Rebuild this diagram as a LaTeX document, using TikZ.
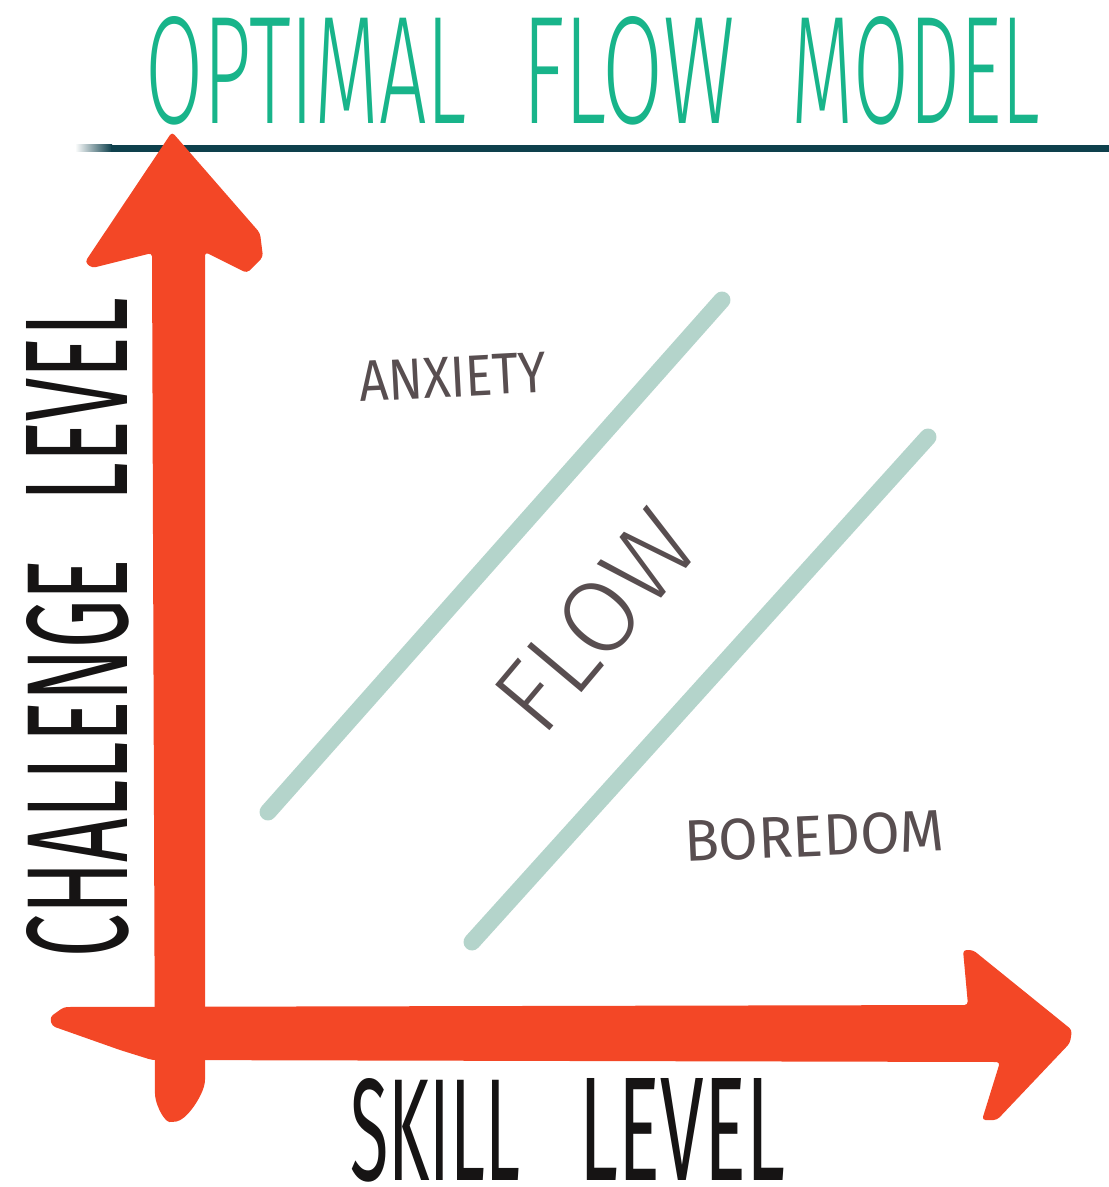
\documentclass[tikz,border=0pt]{standalone}
\usepackage{fontspec}
\usepackage{graphicx}
\newfontfamily\handfont{Fira Sans Light}
\newfontfamily\handfontreg{Fira Sans}
\definecolor{axisred}{RGB}{243,71,38}
\definecolor{flowteal}{RGB}{24,180,138}
\definecolor{bandgreen}{RGB}{180,212,203}
\definecolor{rulecol}{RGB}{14,64,76}
\definecolor{zonegray}{RGB}{88,78,80}
\definecolor{inkblack}{RGB}{22,20,20}
% stretch a word to a given width and height
\newcommand{\fitword}[3]{\resizebox{#1}{#2}{#3}}

\begin{document}
\begin{tikzpicture}[x=0.02cm,y=-0.02cm,
  every node/.style={inner sep=0pt,outer sep=0pt},
  heading/.style={text=flowteal,font=\handfont},
  axislab/.style={text=inkblack,font=\handfontreg},
  zone/.style={text=zonegray,font=\handfontreg},
  flowlab/.style={text=zonegray,font=\handfont},
  axis/.style={fill=axisred,rounded corners=2pt},
  band/.style={draw=bandgreen,line width=0.34cm,line cap=round}
]
  \useasboundingbox (0,0) rectangle (1109,1187);

  % title and rule (faded at its left end)
  \node[heading] (title) at (592.5,70.5) {\fitword{6.44cm}{2.14cm}{OPTIMAL}\hspace{1.1cm}\fitword{4.26cm}{2.14cm}{FLOW}\hspace{1.14cm}\fitword{4.96cm}{2.14cm}{MODEL}};
  \shade[left color=white,right color=rulecol] (75,144.5) rectangle (112,151.5);
  \draw[rulecol,line width=0.14cm] (111,148) -- (1109,148);

  % flow channel
  \draw[band] (268,812) -- (722,300);
  \draw[band] (472,942) -- (928,437);
  \node[flowlab,rotate=50] (flow) at (596,621) {\fitword{5.0cm}{1.44cm}{FLOW}};
  \node[zone,rotate=3] (anxiety) at (453,377) {\fitword{3.75cm}{0.8cm}{ANXIETY}};
  \node[zone,rotate=2.5] (boredom) at (814,836) {\fitword{5.2cm}{0.82cm}{BOREDOM}};

  % axes
  \fill[axis] (155,1097) .. controls (160,1115) and (167,1122) .. (173,1122)
    .. controls (186,1120) and (200,1100) .. (205,1083) -- (205,252) -- (247,273)
    -- (263,257) -- (260,233) -- (172,132) -- (85,262) -- (92,268) -- (152,253) -- cycle;
  \fill[axis] (50,1017) -- (64,1007) -- (968,1005) -- (963,950) -- (973,950)
    -- (1072,1030) -- (1070,1043) -- (997,1120) -- (982,1120) -- (1000,1062)
    -- (152,1060) -- (120,1050) -- (52,1026) -- cycle;

  \node[axislab,rotate=90] (challenge) at (77.5,628) {\fitword{7.98cm}{2.02cm}{CHALLENGE}\hspace{1.16cm}\fitword{4.06cm}{2.02cm}{LEVEL}};
  \node[axislab] (skill) at (567.5,1130) {\fitword{3.4cm}{2.04cm}{SKILL}\hspace{1.2cm}\fitword{4.1cm}{2.04cm}{LEVEL}};
\end{tikzpicture}
\end{document}
